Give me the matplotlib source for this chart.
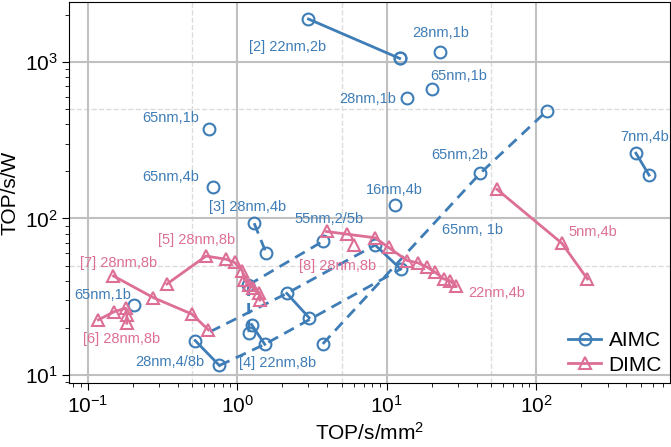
import matplotlib
matplotlib.use("Agg")
import matplotlib.pyplot as plt
from matplotlib.ticker import LogLocator

plt.rcParams['font.family'] = ['Liberation Sans', 'DejaVu Sans']
plt.rcParams['mathtext.default'] = 'regular'

blue = '#3f7db6'
pink = '#dd6f97'

# AIMC: lone points (TOP/s/mm2, TOP/s/W)
aimc_x = [12.2, 22.8, 20.1, 13.6, 0.653, 0.691, 42.2, 11.4, 0.205, 118]
aimc_y = [1052, 1160, 670, 585, 371, 158, 194, 122, 28.0, 487]

# AIMC: pairs joined by a solid line
aimc_pairs = [
    ([3.0, 12.2], [1876, 1052]),      # [2] 22nm,2b
    ([464, 568], [261, 189]),         # 7nm,4b
    ([0.524, 0.761], [16.6, 11.5]),   # 28nm,4/8b
    ([1.25, 1.53], [21.0, 15.7]),     # [4] 22nm,8b
    ([2.15, 3.03], [33.2, 23.2]),
    ([8.38, 12.4], [67.6, 47.5]),
]

# AIMC: dashed links
aimc_dashed = [
    ([1.30, 1.56], [93.2, 60.4]),             # [3] 28nm,4b
    ([0.66, 2.15, 8.38], [18.9, 33.2, 67.6]),
    ([1.19, 3.78], [37.6, 71.8]),
    ([1.19, 1.20], [37.6, 18.6]),
    ([0.761, 1.53, 12.4], [11.5, 15.7, 47.5]),
    ([3.74, 42.2, 118], [15.8, 194, 487]),
]
aimc_dashed_pts_x = [1.30, 1.56, 1.19, 1.20, 3.78, 3.74]
aimc_dashed_pts_y = [93.2, 60.4, 37.6, 18.6, 71.8, 15.8]

# DIMC series
dimc_series = [
    ([0.339, 0.620, 0.848, 0.962, 1.085, 1.12, 1.20, 1.28, 1.41, 1.42],
     [38.1, 57.5, 54.8, 52.3, 46.1, 40.4, 37.6, 36.0, 33.4, 30.1]),   # [5]
    ([0.149, 0.275, 0.498, 0.643], [42.9, 31.2, 24.5, 19.4]),         # [7]
    ([0.118, 0.151, 0.180, 0.183, 0.183], [22.5, 25.4, 26.7, 24.2, 21.4]),  # [6]
    ([3.96, 5.42, 8.38, 10.3, 13.7, 16.2, 18.6, 21.1, 24.0, 26.4, 29.1],
     [82.5, 79.3, 75.2, 65.2, 53.8, 52.0, 48.9, 45.3, 41.1, 40.1, 37.0]),  # [8] / 22nm,4b
    ([54.6, 148.6, 220], [153.4, 69.3, 41.0]),                        # 5nm,4b
]
dimc_extra_x = [6.0]
dimc_extra_y = [68.1]

# labels: text, x, y, group
label_text = ['[2] 22nm,2b', '28nm,1b', '65nm,1b', '28nm,1b', '65nm,1b', '65nm,4b',
              '65nm,2b', '7nm,4b', '16nm,4b', '[3] 28nm,4b', '55nm,2/5b', '65nm, 1b',
              '65nm,1b', '28nm,4/8b', '[4] 22nm,8b',
              '[5] 28nm,8b', '[7] 28nm,8b', '[8] 28nm,8b', '5nm,4b', '22nm,4b', '[6] 28nm,8b']
label_x = [2.19, 22.8, 30.1, 7.52, 0.359, 0.362, 31.0, 528, 11.2, 1.17, 4.13, 37.3,
           0.127, 0.356, 1.85,
           0.532, 0.160, 4.70, 239, 54.8, 0.168]
label_y = [1242, 1528, 811, 579, 438, 184, 254, 331, 152, 118, 99.1, 84.3,
           32.4, 12.1, 11.9,
           72.8, 51.9, 49.7, 81.9, 33.4, 17.0]
label_grp = ['A'] * 15 + ['D'] * 6

fig = plt.figure(figsize=(6.71, 4.47), dpi=100)
ax = fig.add_axes([0.1033, 0.1432, 0.8957, 0.8523])
ax.set_xscale('log')
ax.set_yscale('log')

mk = dict(markersize=8.5, markerfacecolor='none', markeredgewidth=1.5)
ax.plot(aimc_x, aimc_y, 'o', color=blue, **mk)
for xs, ys in aimc_pairs:
    ax.plot(xs, ys, '-o', color=blue, lw=2, **mk)
for xs, ys in aimc_dashed:
    ax.plot(xs, ys, '--', color=blue, lw=2, dashes=(4, 2.5))
ax.plot(aimc_dashed_pts_x, aimc_dashed_pts_y, 'o', color=blue, **mk)

for xs, ys in dimc_series:
    ax.plot(xs, ys, '-^', color=pink, lw=2, **mk)
ax.plot(dimc_extra_x, dimc_extra_y, '^', color=pink, **mk)

for t, x, y, g in zip(label_text, label_x, label_y, label_grp):
    ax.text(x, y, t, color=blue if g == 'A' else pink, fontsize=10.5,
            ha='center', va='center')

ax.plot([], [], '-o', color=blue, lw=2, label='AIMC', **mk)
ax.plot([], [], '-^', color=pink, lw=2, label='DIMC', **mk)
ax.legend(loc='lower right', frameon=False, fontsize=15, handlelength=1.6,
          handletextpad=0.35, borderaxespad=0.1, borderpad=0.3,
          labelspacing=0.25)

ax.set_xlim(0.0755, 788)
ax.set_ylim(8.89, 2410)
ax.xaxis.set_minor_locator(LogLocator(base=10, subs=range(2, 10)))
ax.yaxis.set_minor_locator(LogLocator(base=10, subs=range(2, 10)))
ax.grid(which='major', color='#c0c0c0', lw=1.5)
for v in [0.5, 5, 50]:
    ax.axvline(v, color='#dcdcdc', lw=1, ls='--', zorder=0)
for v in [50, 500]:
    ax.axhline(v, color='#dcdcdc', lw=1, ls='--', zorder=0)
ax.set_axisbelow(True)
ax.tick_params(which='both', direction='out', labelsize=15)
ax.tick_params(which='major', length=5)
ax.tick_params(which='minor', length=3)
ax.set_xlabel('TOP/s/mm$^2$', fontsize=15)
ax.set_ylabel('TOP/s/W', fontsize=15)

fig.savefig('out.png', dpi=100)
